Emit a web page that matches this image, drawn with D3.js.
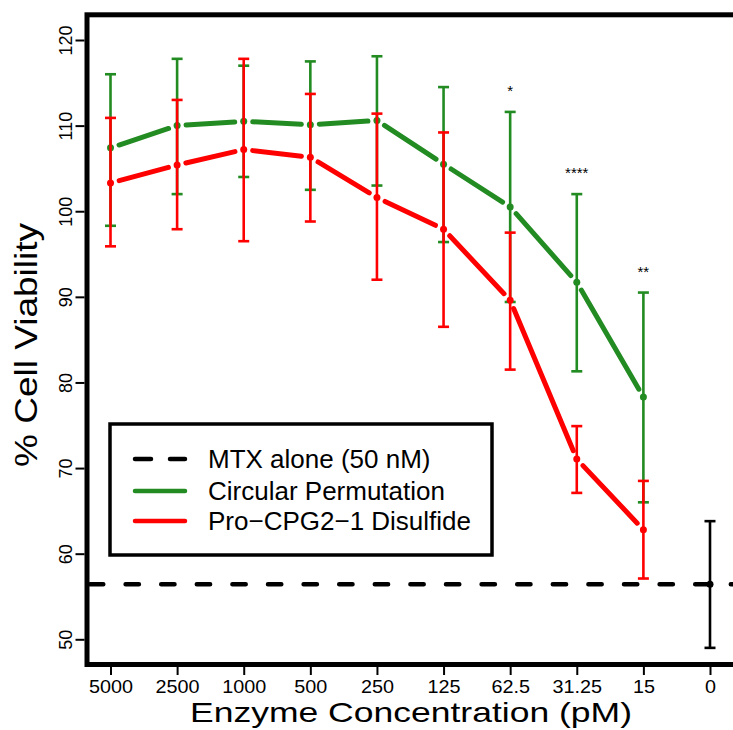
<!DOCTYPE html>
<html>
<head>
<meta charset="utf-8">
<script src="https://cdn.jsdelivr.net/npm/d3@7"></script>
<style>
  html, body { margin: 0; padding: 0; background: #fff; }
  svg { display: block; font-family: "Liberation Sans", Arial, Helvetica, sans-serif; }
</style>
</head>
<body>
<svg id="chart" width="733" height="730"></svg>
<script>
// ---- data ----
const categories = ["5000", "2500", "1000", "500", "250", "125", "62.5", "31.25", "15", "0"];
const cpMean  = [107.4, 110.0, 110.5, 110.1, 110.6, 105.5, 100.5, 91.7, 78.3];
const cpUpper = [116.0, 117.8, 117.0, 117.5, 118.1, 114.5, 111.6, 102.0, 90.5];
const cpLower = [98.3, 102.0, 104.0, 102.5, 103.0, 96.4, 89.4, 81.3, 66.0];
const dsMean  = [103.3, 105.4, 107.2, 106.3, 101.6, 97.9, 89.6, 71.05, 62.8];
const dsUpper = [110.9, 113.0, 117.8, 113.7, 111.4, 109.2, 97.5, 74.9, 68.5];
const dsLower = [95.9, 97.9, 96.5, 98.8, 92.0, 86.5, 81.5, 67.1, 57.1];
const mtxMean = [56.43];
const mtxUpper = [63.8];
const mtxLower = [49.0];
const significance = ["", "", "", "", "", "", "*", "****", "**"];
const yTicks = [50, 60, 70, 80, 90, 100, 110, 120];
const legendLabels = ["MTX alone (50 nM)", "Circular Permutation", "Pro\u2212CPG2\u22121 Disulfide"];

const GREEN = "#228B22", RED = "#FF0000", BLACK = "#000";

const svg = d3.select("#chart");
const x = d3.scalePoint().domain(categories).range([110.5, 710]);
const y = d3.scaleLinear().domain([50, 120]).range([639.3, 40]);

// frame
svg.append("rect").attr("x", 87).attr("y", 14.8).attr("width", 700).attr("height", 649.7)
  .attr("fill", "none").attr("stroke", BLACK).attr("stroke-width", 5);

// axes
const yAxis = svg.append("g").attr("transform", "translate(84.5,0)")
  .call(d3.axisLeft(y).tickValues(yTicks).tickSize(9).tickPadding(0));
yAxis.select(".domain").remove();
yAxis.selectAll(".tick line").attr("stroke-width", 2);
yAxis.selectAll(".tick text")
  .attr("x", 0).attr("dy", 0)
  .attr("transform", "translate(-12.5,0) rotate(-90)")
  .attr("text-anchor", "middle")
  .style("font-size", "18px").attr("fill", BLACK);

const xAxis = svg.append("g").attr("transform", "translate(0,666)")
  .call(d3.axisBottom(x).tickSize(9).tickPadding(0));
xAxis.select(".domain").remove();
xAxis.selectAll(".tick line").attr("stroke-width", 2);
xAxis.selectAll(".tick text").attr("y", 0).attr("dy", 0)
  .attr("transform", "translate(0,26.7) scale(1.1,1)")
  .style("font-size", "18px").attr("fill", BLACK);

// axis titles
svg.append("text").attr("x", 411).attr("y", 721.7).attr("text-anchor", "middle")
  .attr("textLength", 442).attr("lengthAdjust", "spacingAndGlyphs")
  .style("font-size", "28px").text("Enzyme Concentration (pM)");
svg.append("text").attr("transform", "translate(37,345) rotate(-90)").attr("text-anchor", "middle")
  .attr("textLength", 244).attr("lengthAdjust", "spacingAndGlyphs")
  .style("font-size", "32px").text("% Cell Viability");

// dashed MTX line
svg.append("line").attr("x1", 90).attr("x2", 760)
  .attr("y1", y(mtxMean[0])).attr("y2", y(mtxMean[0]))
  .attr("stroke", BLACK).attr("stroke-width", 4.5).attr("stroke-linecap", "round")
  .attr("stroke-dasharray", "13.3 22.3");

// series helper: R type="b" style (gaps around points)
function drawSeries(cats, mean, upper, lower, color) {
  const g = svg.append("g");
  const pts = mean.map((m, i) => ({ c: cats[i], m: m, u: upper[i], l: lower[i] }));
  const gap = 9;
  for (let i = 0; i < pts.length - 1; i++) {
    const x1 = x(pts[i].c), y1 = y(pts[i].m), x2 = x(pts[i + 1].c), y2 = y(pts[i + 1].m);
    const dx = x2 - x1, dy = y2 - y1, len = Math.hypot(dx, dy);
    if (len <= 2 * gap) continue;
    const ux = dx / len, uy = dy / len;
    g.append("line")
      .attr("x1", x1 + ux * gap).attr("y1", y1 + uy * gap)
      .attr("x2", x2 - ux * gap).attr("y2", y2 - uy * gap)
      .attr("stroke", color).attr("stroke-width", 5).attr("stroke-linecap", "round");
  }
  pts.forEach(p => {
    const cx = x(p.c);
    g.append("line").attr("x1", cx).attr("x2", cx).attr("y1", y(p.u)).attr("y2", y(p.l))
      .attr("stroke", color).attr("stroke-width", 2.6);
    [p.u, p.l].forEach(v => {
      g.append("line").attr("x1", cx - 5.5).attr("x2", cx + 5.5).attr("y1", y(v)).attr("y2", y(v))
        .attr("stroke", color).attr("stroke-width", 2.6);
    });
    g.append("circle").attr("cx", cx).attr("cy", y(p.m)).attr("r", 3.5).attr("fill", color);
  });
}

drawSeries(categories.slice(0, 9), cpMean, cpUpper, cpLower, GREEN);
drawSeries(categories.slice(0, 9), dsMean, dsUpper, dsLower, RED);
drawSeries(["0"], mtxMean, mtxUpper, mtxLower, BLACK);

// significance markers
significance.forEach((s, i) => {
  if (!s) return;
  svg.append("text").attr("x", x(categories[i])).attr("y", y(cpUpper[i]) - 16)
    .attr("text-anchor", "middle").style("font-size", "15px").text(s);
});

// legend
const lg = svg.append("g");
lg.append("rect").attr("x", 110).attr("y", 424).attr("width", 382).attr("height", 131)
  .attr("fill", "#fff").attr("stroke", BLACK).attr("stroke-width", 3.5);
const rowsY = [459, 491, 521];
const legendColors = [BLACK, GREEN, RED];
legendLabels.forEach((lab, i) => {
  const ln = lg.append("line").attr("x1", 135).attr("x2", 185).attr("y1", rowsY[i]).attr("y2", rowsY[i])
    .attr("stroke", legendColors[i]).attr("stroke-width", 4.5).attr("stroke-linecap", "round");
  if (i === 0) ln.attr("stroke-dasharray", "16 19");
  lg.append("text").attr("x", 208).attr("y", rowsY[i] + 9).style("font-size", "26px").text(lab);
});
</script>
</body>
</html>
